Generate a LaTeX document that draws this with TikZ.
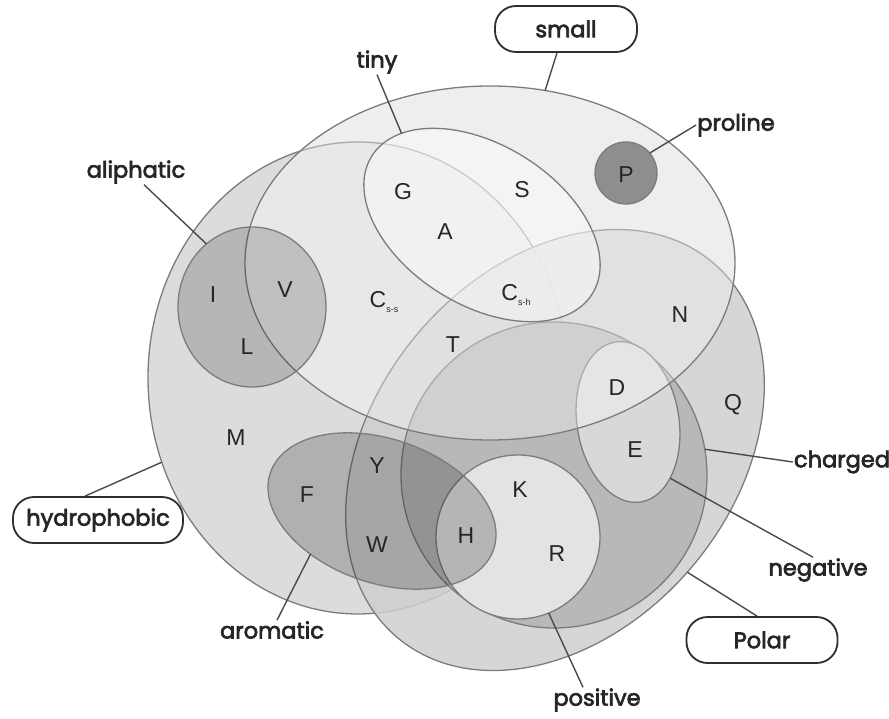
\documentclass[tikz,border=0pt]{standalone}
\usepackage{fontspec}
\setmainfont{Liberation Sans}
\newfontfamily\labelfont{Poppins}[FakeBold=3]
\usetikzlibrary{calc}
\definecolor{outl}{HTML}{7C7C7C}
\definecolor{leader}{HTML}{4A4A4A}
\definecolor{boxline}{HTML}{2E2E2E}
\definecolor{inkc}{HTML}{262626}
\definecolor{smallbase}{HTML}{E6E6E6}
\definecolor{hydfill}{HTML}{DCDCDC}
\definecolor{polfill}{HTML}{CFCFCF}
\definecolor{chgfill}{HTML}{B8B8B8}
\definecolor{posfill}{HTML}{E3E3E3}
\definecolor{negfill}{HTML}{D8D8D8}
\definecolor{profill}{HTML}{8E8E8E}
\begin{document}
\begin{tikzpicture}[x=1pt,y=1pt,
  setline/.style={draw=outl, line width=1.3pt},
  leadline/.style={draw=leader, line width=1.4pt},
  aa/.style={font=\fontsize{23}{23}\selectfont, text=inkc, inner sep=0pt},
  lab/.style={font=\labelfont\fontsize{22.5}{22.5}\selectfont, text=inkc, inner sep=1pt},
  boxlab/.style={lab, draw=boxline, line width=1.8pt, fill=white, rounded corners=21pt,
                 minimum height=46pt}]
\useasboundingbox (0,0) rectangle (889,-719);

% underlying tone of the "small" set where nothing else covers it
\fill[smallbase] (490,-263) ellipse [x radius=245, y radius=177];

% hydrophobic
\filldraw[setline, fill=hydfill] (358,-378) ellipse [x radius=210, y radius=236];
\coordinate (hydA) at ($(358,-378)+(200.9:210 and 236)$);

% polar (slightly see-through)
\begin{scope}[shift={(555,-450)}, rotate=50]
  \filldraw[setline, fill=polfill, fill opacity=0.85] (0,0) ellipse [x radius=245, y radius=180];
  \coordinate (polA) at (268:245 and 180);
\end{scope}

% charged
\filldraw[setline, fill=chgfill] (554,-475) circle [radius=153];
\coordinate (chgA) at ($(554,-475)+(9.7:153)$);

% positive
\filldraw[setline, fill=posfill] (518,-537) circle [radius=82];
\coordinate (posA) at ($(518,-537)+(-68:82)$);

% negative
\begin{scope}[shift={(628,-422)}, rotate=9]
  \filldraw[setline, fill=negfill] (0,0) ellipse [x radius=51, y radius=81];
  \coordinate (negA) at (-50:51 and 81);
\end{scope}

% small
\filldraw[setline, fill=white, fill opacity=0.35] (490,-263) ellipse [x radius=245, y radius=177];
\coordinate (smlA) at ($(490,-263)+(77:245 and 177)$);

% tiny
\begin{scope}[shift={(482,-225)}, rotate=-32]
  \filldraw[setline, fill=white, fill opacity=0.4] (0,0) ellipse [x radius=130, y radius=80];
  \coordinate (tinA) at (154:130 and 80);
\end{scope}

% aromatic
\begin{scope}[shift={(382,-511)}, rotate=-19]
  \filldraw[setline, fill=black, fill opacity=0.2] (0,0) ellipse [x radius=118, y radius=72];
  \coordinate (aroA) at (243:118 and 72);
\end{scope}

% aliphatic
\filldraw[setline, fill=black, fill opacity=0.17] (252,-307) ellipse [x radius=74, y radius=80];
\coordinate (aliA) at ($(252,-307)+(128:74 and 80)$);

% proline
\filldraw[setline, fill=profill] (626,-173) circle [radius=31];
\coordinate (proA) at ($(626,-173)+(40:31)$);

% amino acids
\node[aa] (G) at (403,-192) {G};
\node[aa] (S) at (522,-190) {S};
\node[aa] (A) at (445,-232) {A};
\node[aa] (P) at (626,-175) {P};
\node[aa] (I) at (213,-295) {I};
\node[aa] (V) at (285,-290) {V};
\node[aa] (L) at (247,-347) {L};
\node[aa] (Css) at (384,-302) {C\raisebox{-0.45ex}{\fontsize{9}{9}\selectfont s-s}};
\node[aa] (Csh) at (516,-295) {C\raisebox{-0.45ex}{\fontsize{9}{9}\selectfont s-h}};
\node[aa] (T) at (453,-345) {T};
\node[aa] (N) at (680,-315) {N};
\node[aa] (D) at (617,-388) {D};
\node[aa] (Q) at (733,-405) {Q};
\node[aa] (E) at (635,-450) {E};
\node[aa] (M) at (236,-438) {M};
\node[aa] (Y) at (377,-466) {Y};
\node[aa] (F) at (307,-495) {F};
\node[aa] (K) at (520,-490) {K};
\node[aa] (W) at (377,-545) {W};
\node[aa] (H) at (466,-536) {H};
\node[aa] (R) at (557,-554) {R};

% set labels
\node[boxlab, minimum width=142pt] (smallB) at (566,-29) {small};
\node[boxlab, minimum width=170pt] (hydB) at (98,-520) {hydrophobic};
\node[boxlab, minimum width=151pt] (polB) at (762,-640) {Polar};
\node[lab] (tinyL) at (377,-62) {tiny};
\node[lab] (aliL) at (136,-172) {aliphatic};
\node[lab] (proL) at (736,-125) {proline};
\node[lab] (chgL) at (842,-462) {charged};
\node[lab] (negL) at (818,-570) {negative};
\node[lab] (posL) at (597,-700) {positive};
\node[lab] (aroL) at (272,-630) {aromatic};

% leader lines
\draw[leadline] ([xshift=-9pt]smallB.south) -- (smlA);
\draw[leadline] (tinyL.south) -- (tinA);
\draw[leadline] ([xshift=8pt]aliL.south) -- (aliA);
\draw[leadline] (proL.west) -- (proA);
\draw[leadline] (chgL.west) -- (chgA);
\draw[leadline] ([xshift=-5pt]negL.north) -- (negA);
\draw[leadline] ([xshift=-14pt]posL.north) -- (posA);
\draw[leadline] ([xshift=-5pt]polB.north) -- (polA);
\draw[leadline] ([xshift=-13pt]hydB.north) -- (hydA);
\draw[leadline] ([xshift=5pt]aroL.north) -- (aroA);
\end{tikzpicture}
\end{document}
